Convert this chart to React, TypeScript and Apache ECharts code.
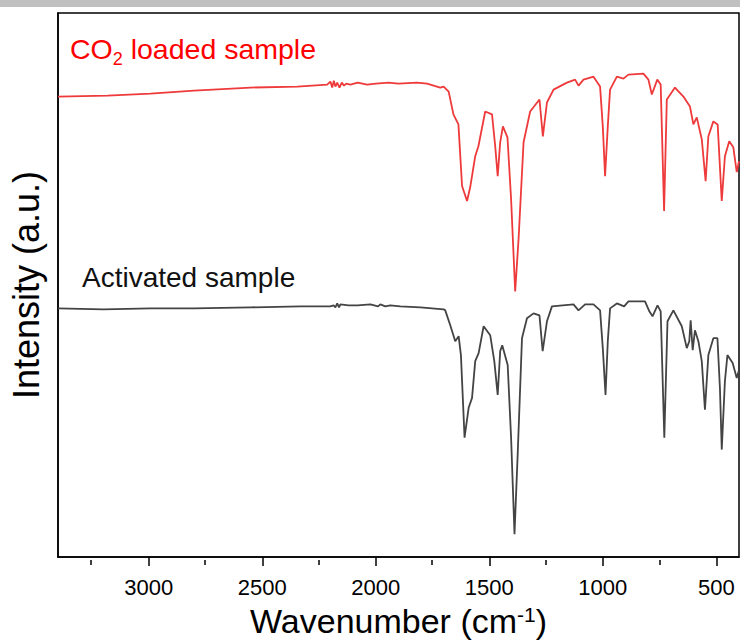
import React, { useEffect, useRef } from "react";
import * as echarts from "echarts";

// Wavenumber (cm-1) and intensity (a.u.)
const redWavenumbers = [3400, 3182, 2992, 2801, 2552, 2346, 2214, 2200, 2192, 2185, 2178, 2170, 2160, 2150, 2140, 2130, 2112, 2080, 2038, 2000, 1944, 1900, 1818, 1774, 1716, 1701, 1679, 1658, 1636, 1620, 1598, 1584, 1562, 1548, 1518, 1488, 1474, 1463, 1452, 1440, 1420, 1404, 1386, 1371, 1349, 1320, 1279, 1264, 1246, 1217, 1158, 1122, 1107, 1085, 1041, 1012, 1000, 990, 978, 968, 938, 909, 887, 821, 799, 784, 760, 745, 730, 718, 682, 645, 616, 601, 586, 564, 547, 535, 513, 494, 476, 462, 443, 425, 410, 400];
const redIntensity = [463, 464, 466, 469, 472, 473, 475, 478, 472, 479, 473, 477, 472, 477, 474, 476, 475, 477, 475, 476, 477, 476, 477, 476, 472, 473, 468, 445, 435, 373, 358, 372, 403, 413, 448, 445, 413, 383, 417, 433, 422, 360, 267, 320, 417, 448, 460, 423, 457, 470, 477, 480, 474, 480, 483, 473, 433, 383, 433, 470, 483, 481, 485, 486, 480, 465, 480, 475, 348, 460, 472, 463, 453, 435, 442, 420, 378, 423, 438, 435, 358, 403, 418, 412, 387, 398];

const blackWavenumbers = [3400, 3200, 2992, 2800, 2552, 2332, 2200, 2186, 2178, 2170, 2162, 2156, 2120, 2080, 2024, 1990, 1980, 1958, 1936, 1892, 1804, 1701, 1694, 1672, 1650, 1635, 1625, 1609, 1591, 1576, 1562, 1547, 1525, 1496, 1478, 1463, 1452, 1443, 1419, 1404, 1389, 1375, 1356, 1334, 1305, 1279, 1265, 1246, 1224, 1129, 1107, 1078, 1041, 1012, 1000, 988, 978, 968, 938, 906, 887, 814, 795, 781, 759, 745, 729, 715, 689, 652, 630, 619, 613, 604, 594, 579, 564, 550, 535, 513, 495, 484, 476, 462, 451, 428, 410, 400];
const blackIntensity = [250, 249, 250, 250, 251, 252, 252, 253, 251, 255, 251, 254, 253, 253, 254, 252, 254, 252, 253, 252, 251, 249, 248, 233, 217, 222, 203, 120, 150, 160, 197, 205, 232, 223, 197, 163, 207, 213, 193, 120, 23, 103, 220, 240, 245, 243, 207, 237, 252, 254, 248, 254, 254, 248, 210, 163, 217, 250, 255, 252, 257, 257, 247, 242, 253, 247, 120, 237, 248, 232, 210, 217, 238, 208, 228, 217, 197, 148, 203, 220, 220, 170, 108, 177, 203, 195, 180, 188];

const majorTicks = [500, 1000, 1500, 2000, 2500, 3000];
const minorTicks = [750, 1250, 1750, 2250, 2750, 3250];

const xMin = 400;
const xMax = 3400;
const yMin = 0;
const yMax = 547;

const FONT = "'Liberation Sans', Arial, sans-serif";

export default function App() {
  const ref = useRef<HTMLDivElement>(null);
  useEffect(() => {
    document.body.style.margin = "0";
    const chart = echarts.init(ref.current!, null, { renderer: "svg" });
    const zip = (xs: number[], ys: number[]) => xs.map((x, i) => [x, ys[i]]);
    chart.setOption({
      animation: false,
      backgroundColor: "#fff",
      grid: [
        { left: 57, top: 13, right: 1, bottom: 83, show: true, borderColor: "#000", borderWidth: 1.5 },
        { left: 57, top: 13, right: 1, bottom: 83, show: false },
      ],
      xAxis: [
        {
          type: "value",
          gridIndex: 0,
          min: xMin,
          max: xMax,
          inverse: true,
          axisLine: { lineStyle: { color: "#000", width: 1.5 } },
          axisTick: { show: true, length: 9, customValues: majorTicks, lineStyle: { color: "#000", width: 1.5 } },
          axisLabel: {
            customValues: majorTicks,
            fontSize: 22,
            color: "#000",
            margin: 19,
            fontFamily: FONT,
            formatter: (v: number) => String(v),
          },
          splitLine: { show: false },
          name: "{a|Wavenumber (cm}{s|-1}{a|)}",
          nameLocation: "middle",
          nameGap: 47,
          nameTextStyle: {
            rich: {
              a: { fontSize: 34, lineHeight: 34, verticalAlign: "bottom", color: "#000", fontFamily: FONT },
              s: { fontSize: 21, lineHeight: 21, verticalAlign: "top", color: "#000", fontFamily: FONT },
            },
          },
        },
        {
          type: "value",
          gridIndex: 1,
          min: xMin,
          max: xMax,
          inverse: true,
          axisLine: { show: false },
          axisTick: { show: true, length: 5, customValues: minorTicks, lineStyle: { color: "#000", width: 1.5 } },
          axisLabel: { show: false },
          splitLine: { show: false },
        },
      ],
      yAxis: [
        {
          type: "value",
          gridIndex: 0,
          min: yMin,
          max: yMax,
          axisLine: { show: true, lineStyle: { color: "#000", width: 1.5 } },
          axisTick: { show: false },
          axisLabel: { show: false },
          splitLine: { show: false },
          name: "Intensity (a.u.)",
          nameLocation: "middle",
          nameGap: 14,
          nameTextStyle: { fontSize: 36, color: "#000", fontFamily: FONT },
        },
        { type: "value", gridIndex: 1, min: yMin, max: yMax, show: false },
      ],
      graphic: [
        { type: "rect", left: 0, top: 0, shape: { width: 740, height: 7 }, style: { fill: "#c0c0c0" }, silent: true },
        {
          type: "text",
          x: 70,
          y: 34,
          style: {
            text: "{a|CO}{b|2}{a| loaded sample}",
            verticalAlign: "top",
            rich: {
              a: { fontSize: 28.5, lineHeight: 28, verticalAlign: "top", fill: "#ff0000", fontFamily: FONT },
              b: { fontSize: 18, lineHeight: 18, verticalAlign: "top", padding: [16, 0, 0, 0], fill: "#ff0000", fontFamily: FONT },
            },
          },
        },
        {
          type: "text",
          x: 82,
          y: 277,
          style: { text: "Activated sample", fontSize: 28, fontFamily: FONT, fill: "#111", verticalAlign: "middle" },
        },
      ],
      series: [
        {
          type: "line",
          xAxisIndex: 0,
          yAxisIndex: 0,
          data: zip(redWavenumbers, redIntensity),
          showSymbol: false,
          lineStyle: { color: "#ee3a3a", width: 1.8 },
          itemStyle: { color: "#ee3a3a" },
        },
        {
          type: "line",
          xAxisIndex: 0,
          yAxisIndex: 0,
          data: zip(blackWavenumbers, blackIntensity),
          showSymbol: false,
          lineStyle: { color: "#444", width: 1.8 },
          itemStyle: { color: "#444" },
        },
      ],
    });
    return () => chart.dispose();
  }, []);
  return <div ref={ref} style={{ width: 740, height: 643 }} />;
}
